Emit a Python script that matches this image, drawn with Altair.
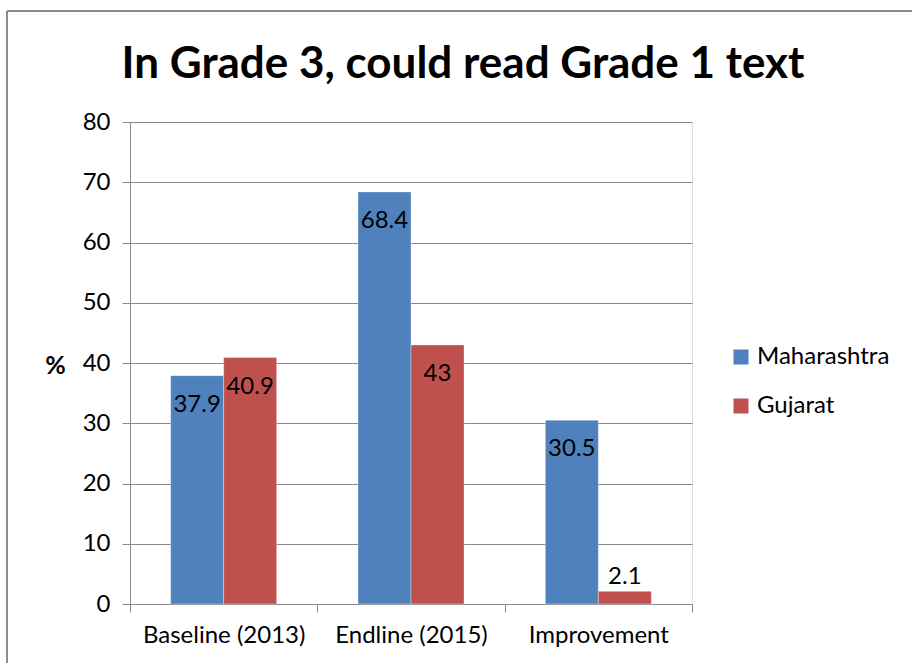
import altair as alt
import pandas as pd

# Share of Grade 3 children able to read a Grade 1 text
title_text = "In Grade 3, could read Grade 1 text"
periods = ["Baseline (2013)", "Endline (2015)", "Improvement"]
states = ["Maharashtra", "Gujarat"]
maharashtra = [37.9, 68.4, 30.5]
gujarat = [40.9, 43, 2.1]
colors = ["#4F81BD", "#C0504D"]
y_ticks = [0, 10, 20, 30, 40, 50, 60, 70, 80]

rows = []
for p, m, g in zip(periods, maharashtra, gujarat):
    rows.append({"period": p, "state": states[0], "value": m})
    rows.append({"period": p, "state": states[1], "value": g})
df = pd.DataFrame(rows)

FONT = "Lato"
GRID = "#8a8a8a"
FS = 24

x_enc = alt.X("period:N", sort=periods, title=None,
              scale=alt.Scale(paddingInner=0, paddingOuter=0),
              axis=alt.Axis(tickBand="extent", labelAngle=0, grid=False,
                            domainColor=GRID, tickColor=GRID, tickSize=8,
                            labelFontSize=FS, labelPadding=11, labelFont=FONT,
                            labelColor="#000000"))
xoff_enc = alt.XOffset("state:N", sort=states,
                       scale=alt.Scale(paddingInner=0, paddingOuter=0.767))
y_enc = alt.Y("value:Q", title="%",
              scale=alt.Scale(domain=[0, 80], nice=False),
              axis=alt.Axis(values=y_ticks, grid=True, gridColor=GRID,
                            domainColor=GRID, tickColor=GRID, tickSize=8,
                            labelFontSize=FS, labelPadding=12, labelFont=FONT,
                            labelColor="#000000",
                            titleAngle=0, titleFontSize=25, titleFont=FONT,
                            titleFontWeight="bold", titleX=-75, titleY=243,
                            titleAlign="center", titleBaseline="middle"))
color_enc = alt.Color("state:N", sort=states,
                      scale=alt.Scale(domain=states, range=colors),
                      legend=alt.Legend(title=None, orient="none",
                                        legendX=599, legendY=223,
                                        symbolType="square", symbolSize=225,
                                        symbolStrokeWidth=0,
                                        labelFontSize=FS, labelFont=FONT,
                                        labelColor="#000000",
                                        rowPadding=25, labelOffset=4))

base = alt.Chart(df)

bars = base.mark_bar(stroke="#ffffff", strokeOpacity=0.35, strokeWidth=1).encode(
    x=x_enc, xOffset=xoff_enc, y=y_enc, color=color_enc
)

label_inside = base.transform_filter("datum.value >= 5").mark_text(
    baseline="middle", dy=29, fontSize=FS, font=FONT, color="#000000"
).encode(x=alt.X("period:N", sort=periods), xOffset=alt.XOffset("state:N", sort=states),
         y="value:Q", text=alt.Text("value:Q"))

label_above = base.transform_filter("datum.value < 5").mark_text(
    baseline="middle", dy=-14, fontSize=FS, font=FONT, color="#000000"
).encode(x=alt.X("period:N", sort=periods), xOffset=alt.XOffset("state:N", sort=states),
         y="value:Q", text=alt.Text("value:Q"))

single = pd.DataFrame({"title": [title_text]})

# Chart heading, centred over the whole frame
heading = alt.Chart(single).mark_text(
    font=FONT, fontSize=44, fontWeight="bold", color="#000000",
    align="center", baseline="alphabetic"
).encode(x=alt.value(333), y=alt.value(-44), text="title:N")

# Outer frame of the chart area
frame_left = alt.Chart(single).mark_rule(color="#8c8c8c", strokeWidth=2).encode(
    x=alt.value(-123), y=alt.value(-111), y2=alt.value(545)
)
frame_top = alt.Chart(single).mark_rule(color="#8c8c8c", strokeWidth=2).encode(
    x=alt.value(-123), x2=alt.value(790), y=alt.value(-111)
)

chart = alt.layer(bars, label_inside, label_above, heading, frame_left, frame_top).properties(
    width=562, height=482,
    autosize=alt.AutoSizeParams(type="none"),
    padding={"left": 130, "top": 122, "right": 220, "bottom": 59},
).configure_view(stroke=None).configure(background="#ffffff")

chart.save("out.html", embed_options={"renderer": "svg", "actions": False})
